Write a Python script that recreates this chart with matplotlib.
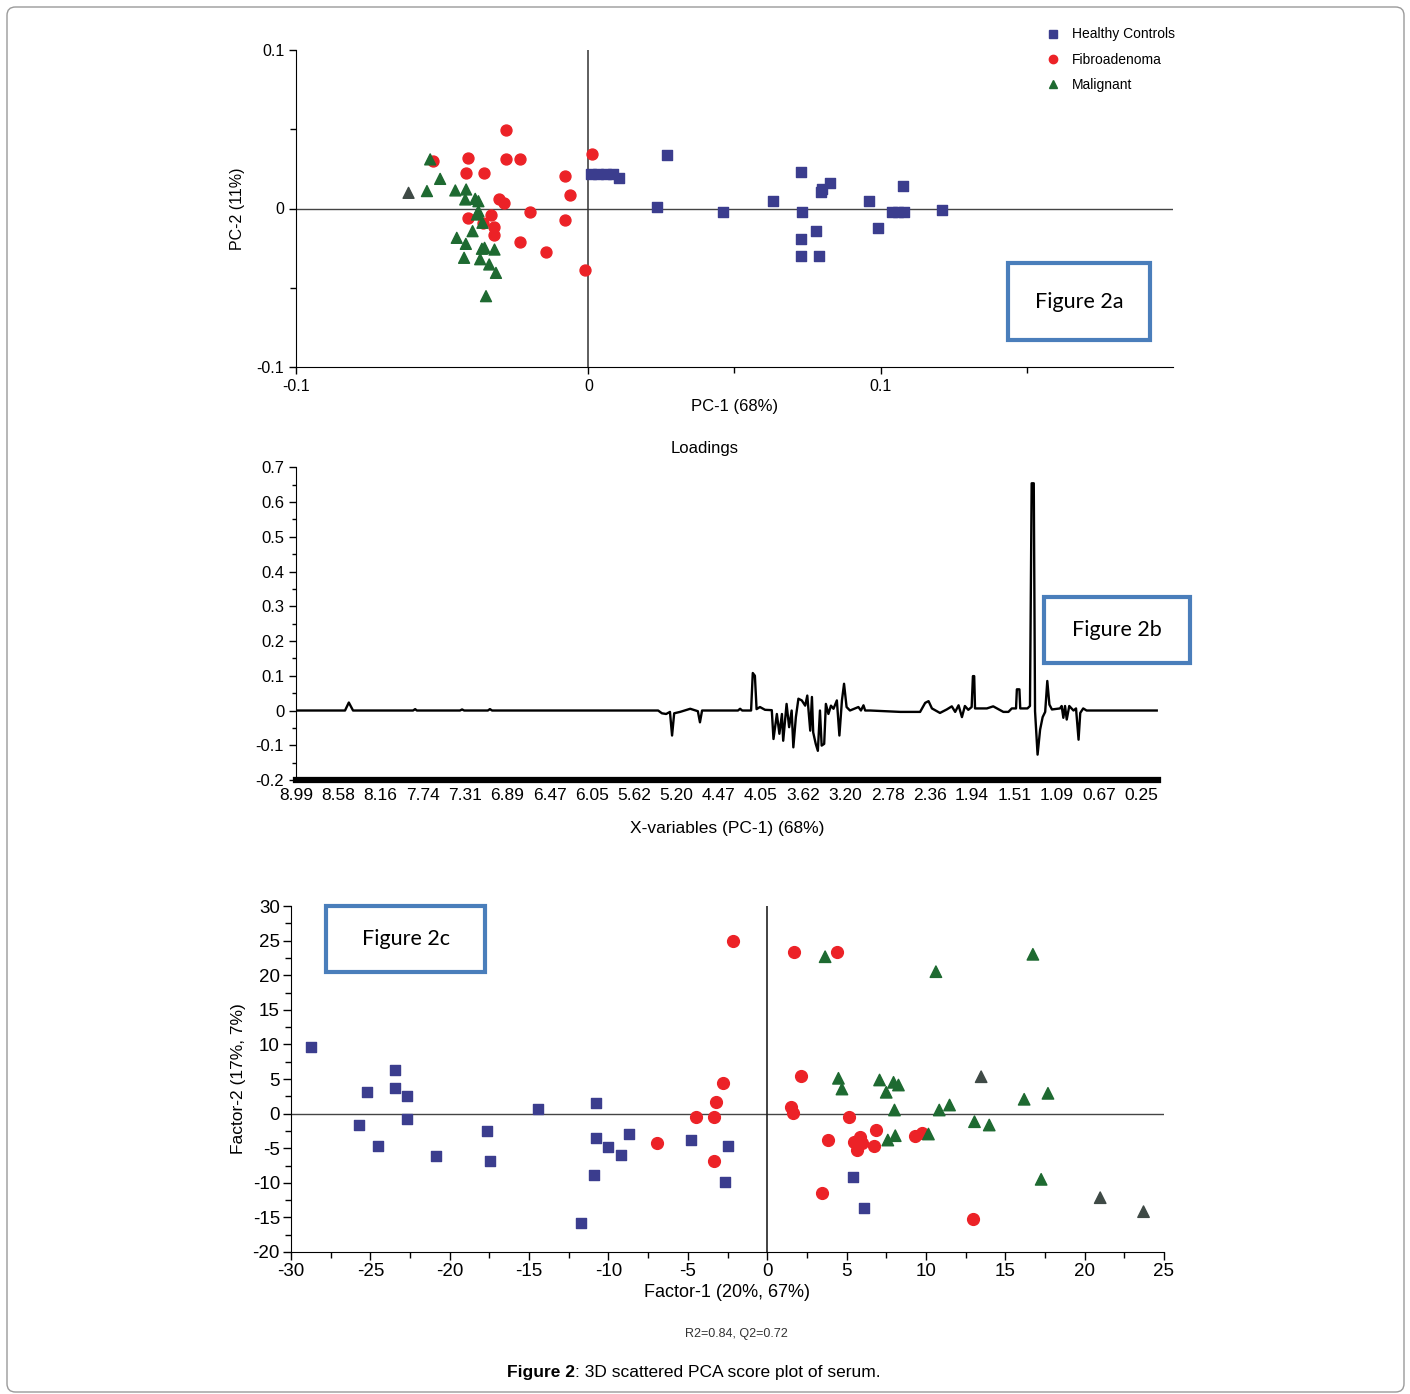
import numpy as np
import matplotlib.pyplot as plt
from matplotlib.patches import Rectangle, FancyBboxPatch
from matplotlib.lines import Line2D

plt.rcParams['font.family'] = ['Liberation Sans', 'DejaVu Sans']
plt.rcParams['axes.unicode_minus'] = False

# ---- Figure 2a: PCA scores (PC-1 vs PC-2) ----
hc_a_x = [0.027, 0.001, 0.0034, 0.006, 0.0086, 0.0106, 0.0236, 0.046, 0.063, 0.0726,
          0.073, 0.0825, 0.080, 0.0795, 0.096, 0.1075, 0.104, 0.106, 0.108, 0.121,
          0.099, 0.078, 0.0726, 0.0726, 0.079]
hc_a_y = [0.034, 0.0215, 0.0215, 0.0215, 0.0215, 0.019, 0.001, -0.002, 0.005, 0.023,
          -0.002, 0.016, 0.012, 0.0107, 0.005, 0.014, -0.002, -0.002, -0.002, -0.001,
          -0.012, -0.014, -0.019, -0.030, -0.030]
fa_a_x = [-0.0282, -0.0413, -0.0282, -0.0235, -0.053, 0.0014, -0.042, -0.0356, -0.0081,
          -0.0064, -0.0305, -0.0287, -0.0201, -0.0081, -0.041, -0.0332, -0.0362, -0.0322,
          -0.0322, -0.0235, -0.0144, -0.001]
fa_a_y = [0.0494, 0.032, 0.031, 0.031, 0.030, 0.0347, 0.0225, 0.0225, 0.0206, 0.0084,
          0.0061, 0.0032, -0.0019, -0.0071, -0.0061, -0.0038, -0.009, -0.0116, -0.017,
          -0.021, -0.0273, -0.0387]
ma_a_x = [-0.0541, -0.0507, -0.0615, -0.0552, -0.0455, -0.0418, -0.0421, -0.0387, -0.0376,
          -0.0376, -0.0381, -0.0362, -0.0396, -0.045, -0.0419, -0.0364, -0.0355, -0.0321,
          -0.0425, -0.037, -0.0339, -0.0316, -0.035]
ma_a_y = [0.031, 0.0187, 0.0099, 0.011, 0.0114, 0.012, 0.0057, 0.0061, 0.0046, -0.0017,
          -0.0038, -0.009, -0.0143, -0.0185, -0.0223, -0.0254, -0.0248, -0.0259, -0.0311,
          -0.032, -0.0353, -0.0406, -0.0553]
ma_a_dark = [2]

# ---- Figure 2b: PC-1 loadings ----
shift_labels = ['8.99', '8.58', '8.16', '7.74', '7.31', '6.89', '6.47', '6.05', '5.62', '5.20',
                '4.47', '4.05', '3.62', '3.20', '2.78', '2.36', '1.94', '1.51', '1.09', '0.67', '0.25']
load_pos = [0.00, 1.16, 1.25, 1.35, 2.77, 2.82, 2.86, 3.88, 3.93, 3.98, 4.54, 4.59, 4.64,
            8.57, 8.66, 8.76, 8.85, 8.90, 8.95, 9.09, 9.33, 9.51, 9.56, 9.61, 10.46, 10.51,
            10.56, 10.77, 10.81, 10.86, 10.90, 10.98, 11.10, 11.26, 11.30, 11.38, 11.44,
            11.50, 11.53, 11.61, 11.67, 11.73, 11.77, 11.83, 11.89, 11.97, 12.05, 12.10,
            12.17, 12.21, 12.24, 12.30, 12.35, 12.40, 12.44, 12.50, 12.54, 12.60, 12.66,
            12.72, 12.80, 12.86, 12.92, 12.97, 13.03, 13.11, 13.31, 13.37, 13.43, 13.47,
            13.59, 14.30, 14.77, 14.89, 14.97, 15.05, 15.24, 15.40, 15.52, 15.60, 15.68,
            15.76, 15.83, 15.91, 15.99, 16.02, 16.05, 16.07, 16.35, 16.50, 16.74, 16.86,
            16.94, 17.04, 17.06, 17.12, 17.14, 17.31, 17.37, 17.41, 17.46, 17.49, 17.55,
            17.61, 17.67, 17.73, 17.78, 17.83, 17.89, 18.08, 18.12, 18.16, 18.20, 18.24,
            18.30, 18.40, 18.46, 18.52, 18.56, 18.63, 18.71, 20.37]
load_val = [0, 0, 0.023, 0, 0, 0.004, 0, 0, 0.003, 0, 0, 0.004, 0,
            0, -0.008, -0.01, -0.004, -0.072, -0.008, -0.004, 0.005, -0.002, -0.034, 0, 0, 0.005,
            0, 0, 0.108, 0.10, 0.004, 0.01, 0.002, 0.001, -0.082, -0.01, -0.067,
            -0.01, -0.087, 0.019, -0.048, 0, -0.106, -0.019, 0.034, 0.029, 0.014, 0.043,
            -0.058, 0.039, -0.063, -0.096, -0.116, 0, -0.101, -0.096, 0.019, -0.01, 0.014,
            0.005, 0.029, -0.072, 0.029, 0.077, 0.01, 0, 0.01, 0, 0.015, 0,
            0, -0.004, -0.004, 0.022, 0.027, 0.006, -0.007, 0.003, 0.012, -0.004, 0.015,
            -0.019, 0.013, 0.002, 0.01, 0.099, 0.099, 0.006, 0.006, 0.012, -0.004, -0.004,
            0.006, 0.006, 0.061, 0.061, 0.006, 0.006, 0.013, 0.654, 0.654, -0.002, -0.127,
            -0.055, -0.019, -0.004, 0.085, 0.017, 0.003, 0.006, 0.013, -0.021, 0.013, -0.026,
            0.013, 0, 0.006, -0.084, -0.007, 0.006, 0, 0]

# ---- Figure 2c: PLS-DA scores ----
hc_c_x = [-28.75, -23.42, -25.22, -23.42, -22.67, -22.67, -25.69, -24.49, -20.86, -14.45,
          -17.66, -17.45, -10.79, -10.79, -10.02, -8.68, -9.2, -10.9, -11.74, -4.79,
          -2.44, -2.67, 5.38, 6.13]
hc_c_y = [9.67, 6.30, 3.08, 3.70, 2.54, -0.73, -1.6, -4.68, -6.17, 0.62,
          -2.47, -6.9, 1.49, -3.53, -4.83, -2.9, -5.98, -8.87, -15.85, -3.82,
          -4.68, -9.93, -9.12, -13.6]
fa_c_x = [-6.95, -4.47, -3.34, -3.21, -2.79, -3.34, -2.14, 1.72, 4.39, 2.14, 1.49, 1.6,
          5.17, 3.86, 6.85, 5.44, 5.86, 5.97, 5.65, 6.76, 9.33, 9.75, 3.45, 12.96]
fa_c_y = [-4.25, -0.54, -0.54, 1.72, 4.38, -6.85, 24.94, 23.4, 23.4, 5.48, 1.0, 0.13,
          -0.53, -3.82, -2.37, -4.15, -3.34, -4.2, -5.26, -4.68, -3.24, -2.85, -11.43, -15.19]
ma_c_x = [3.65, 10.63, 16.74, 4.49, 4.71, 7.08, 7.5, 7.96, 8.27, 8.02, 13.48, 10.84, 11.49,
          16.19, 17.69, 13.06, 13.99, 8.07, 7.6, 10.16, 17.26, 20.98, 23.71]
ma_c_y = [22.67, 20.51, 23.02, 5.1, 3.55, 4.86, 3.08, 4.52, 4.13, 0.52, 5.33, 0.52, 1.24,
          2.07, 2.93, -1.17, -1.65, -3.19, -3.82, -2.95, -9.5, -12.15, -14.17]
ma_c_dark = [10, 21, 22]

HC_COL = '#3b3d8e'
FA_COL = '#ec2227'
MA_COL = '#1e6a31'
DARK_COL = '#3f4a46'
BOX_COL = '#4a7ebb'

W, H = 1410, 1394
fig = plt.figure(figsize=(W / 100, H / 100), dpi=100)


def fx(px):
    return px / W


def fy(py):
    return 1 - py / H


def label_box(x0, y0, x1, y1, text):
    fig.add_artist(Rectangle((fx(x0), fy(y1)), fx(x1 - x0), (y1 - y0) / H,
                             transform=fig.transFigure, facecolor='white',
                             edgecolor=BOX_COL, linewidth=3, zorder=10))
    fig.text(fx((x0 + x1) / 2), fy((y0 + y1) / 2), text, family='Lato', fontsize=15.5,
             ha='center', va='center', zorder=11)


def tri_colors(n, dark):
    return [DARK_COL if i in dark else MA_COL for i in range(n)]


# outer frame
fig.add_artist(FancyBboxPatch((fx(7), fy(1392)), fx(1397), 1385 / H,
                              boxstyle='round,pad=0,rounding_size=0.006',
                              transform=fig.transFigure, facecolor='none',
                              edgecolor='#9a9a9a', linewidth=1))

# ---------------- panel a ----------------
ax1 = fig.add_axes([fx(296), fy(367), fx(1173 - 296), (367 - 50) / H])
ax1.axhline(0, color='#444444', lw=1, zorder=1)
ax1.axvline(0, color='#333333', lw=1.1, zorder=1)
ax1.scatter(hc_a_x, hc_a_y, marker='s', s=55, color=HC_COL, zorder=3)
ax1.scatter(fa_a_x, fa_a_y, marker='o', s=62, color=FA_COL, zorder=3)
ax1.scatter(ma_a_x, ma_a_y, marker='^', s=62, color=tri_colors(len(ma_a_x), ma_a_dark), zorder=4)
ax1.set_xlim(-0.1, 0.2)
ax1.set_ylim(-0.1, 0.1)
ax1.set_xticks([-0.1, 0, 0.1])
ax1.set_xticklabels(['-0.1', '0', '0.1'])
ax1.set_xticks([0.05, 0.15], minor=True)
ax1.set_yticks([-0.1, 0, 0.1])
ax1.set_yticklabels(['-0.1', '0', '0.1'])
ax1.set_yticks([-0.05, 0.05], minor=True)
for s in ['top', 'right']:
    ax1.spines[s].set_visible(False)
ax1.tick_params(labelsize=11.5, length=5, width=1)
ax1.tick_params(which='minor', length=4, width=1)
ax1.set_xlabel('PC-1 (68%)', fontsize=12)
ax1.set_ylabel('PC-2 (11%)', fontsize=11.5, labelpad=8)

handles = [Line2D([], [], ls='none', marker='s', ms=5.5, color=HC_COL),
           Line2D([], [], ls='none', marker='o', ms=6, color=FA_COL),
           Line2D([], [], ls='none', marker='^', ms=5.5, color=MA_COL)]
fig.legend(handles, ['Healthy Controls', 'Fibroadenoma', 'Malignant'],
           loc='upper left', bbox_to_anchor=(fx(1032), fy(15)), frameon=False,
           fontsize=10, labelspacing=0.8, handletextpad=0.8, handlelength=1.2)
label_box(1008, 263, 1150, 340, 'Figure 2a')

# ---------------- panel b ----------------
ax2 = fig.add_axes([fx(296), fy(780), fx(1158 - 296), (780 - 467.3) / H])
ax2.plot(load_pos, load_val, color='black', lw=1.7)
ax2.set_xlim(0, 20.40)
ax2.set_ylim(-0.2, 0.7)
ax2.set_xticks(np.arange(len(shift_labels)))
ax2.set_xticklabels(shift_labels)
ax2.set_yticks(np.arange(-0.2, 0.71, 0.1))
ax2.set_yticklabels(['-0.2', '-0.1', '0', '0.1', '0.2', '0.3', '0.4', '0.5', '0.6', '0.7'])
ax2.set_yticks(np.arange(-0.15, 0.7, 0.1), minor=True)
for s in ['top', 'right']:
    ax2.spines[s].set_visible(False)
ax2.spines['bottom'].set_linewidth(4.5)
ax2.tick_params(axis='x', length=0, pad=6, labelsize=12.5)
ax2.tick_params(axis='y', labelsize=12, length=5, width=1)
ax2.tick_params(axis='y', which='minor', length=3, width=1)
ax2.set_title('Loadings', fontsize=12, pad=10, x=(705 - 296) / (1158 - 296))
ax2.set_xlabel('X-variables (PC-1) (68%)', fontsize=12.5, labelpad=13)
label_box(1044, 597, 1190, 663, 'Figure 2b')

# ---------------- panel c ----------------
ax3 = fig.add_axes([fx(291), fy(1252), fx(1164 - 291), (1252 - 906) / H])
ax3.axhline(0, color='#444444', lw=1, zorder=1)
ax3.axvline(0, color='#222222', lw=1.2, zorder=1)
ax3.scatter(hc_c_x, hc_c_y, marker='s', s=62, color=HC_COL, zorder=3)
ax3.scatter(fa_c_x, fa_c_y, marker='o', s=72, color=FA_COL, zorder=3)
ax3.scatter(ma_c_x, ma_c_y, marker='^', s=68, color=tri_colors(len(ma_c_x), ma_c_dark), zorder=4)
ax3.set_xlim(-30, 25)
ax3.set_ylim(-20, 30)
ax3.set_xticks(np.arange(-30, 26, 5))
ax3.set_xticks(np.arange(-27.5, 25, 5), minor=True)
ax3.set_yticks(np.arange(-20, 31, 5))
ax3.set_yticks(np.arange(-17.5, 30, 5), minor=True)
for s in ['top', 'right']:
    ax3.spines[s].set_visible(False)
ax3.tick_params(labelsize=13.5, length=6, width=1, pad=2)
ax3.tick_params(which='minor', length=4, width=1)
ax3.set_xlabel('Factor-1 (20%, 67%)', fontsize=13, labelpad=3)
ax3.set_ylabel('Factor-2 (17%, 7%)', fontsize=12.5, labelpad=5)
label_box(326, 906, 485, 972, 'Figure 2c')

fig.text(fx(736), fy(1334), 'R2=0.84, Q2=0.72', fontsize=9, ha='center', va='center',
         color='#333333')
fig.text(fx(575), fy(1373), 'Figure 2', fontsize=12.5, fontweight='bold', ha='right', va='center')
fig.text(fx(575), fy(1373), ': 3D scattered PCA score plot of serum.', fontsize=12.5,
         ha='left', va='center')

fig.savefig('out.png', dpi=100)
